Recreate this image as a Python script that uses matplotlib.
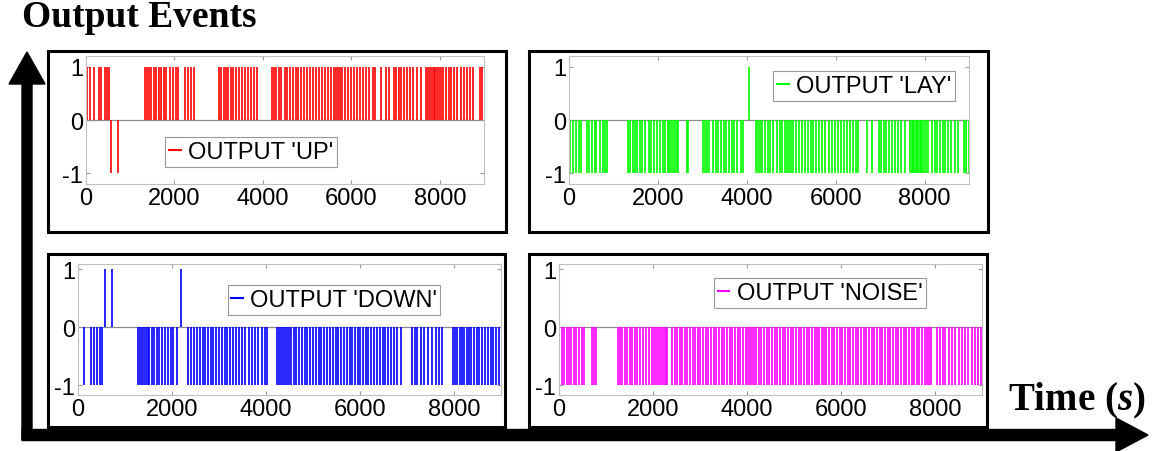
import matplotlib
matplotlib.use("Agg")
import matplotlib.pyplot as plt
from matplotlib.patches import Rectangle, FancyArrow

plt.rcParams['axes.unicode_minus'] = False
plt.rcParams['font.family'] = ['Liberation Sans', 'DejaVu Sans']
plt.rcParams['mathtext.fontset'] = 'custom'
plt.rcParams['mathtext.it'] = 'Liberation Serif:italic:bold'
plt.rcParams['mathtext.rm'] = 'Liberation Serif:bold'

# event times (s) and output values
up_pos = [30, 90, 170, 290, 350, 420, 480, 530,
          1330, 1380, 1430, 1480, 1540, 1590, 1640, 1700, 1760, 1820, 1890, 1960, 2030, 2080,
          2240, 2300, 2370, 2440,
          3010, 3060, 3110, 3160, 3220, 3270, 3330, 3390, 3450, 3520, 3590, 3660, 3730, 3800, 3870,
          4200, 4250, 4300, 4360, 4420, 4490, 4550, 4610, 4680, 4740, 4800, 4870, 4930, 5000,
          5060, 5130, 5190, 5260, 5330, 5400, 5470, 5540, 5600, 5650, 5700, 5750, 5800, 5860,
          5920, 5990, 6060, 6130, 6200, 6270, 6340, 6410, 6480, 6540,
          6680, 6780, 6850,
          6960, 7010, 7070, 7130, 7190, 7260, 7330, 7400, 7480, 7570,
          7680, 7730, 7780, 7820, 7860, 7900, 7940, 7980, 8030, 8080, 8140, 8200, 8260, 8330,
          8400, 8470, 8540, 8610, 8680, 8750,
          8900, 8960]
up_neg = [570, 720]

lay_pos = [4060]
lay_neg = [20, 80, 150, 220, 270, 400, 460, 520, 580, 610, 700, 760, 820, 850,
           1330, 1380, 1430, 1490, 1540, 1590, 1650, 1700, 1790, 1850, 1920, 1990, 2040,
           2120, 2170, 2220, 2260, 2300, 2340, 2380, 2420, 2450, 2650, 2680,
           3010, 3060, 3110, 3160, 3230, 3300, 3360, 3420, 3480, 3540, 3600, 3660, 3720, 3790,
           3860, 3920,
           4200, 4250, 4300, 4350, 4410, 4470, 4530, 4600, 4670, 4740, 4800, 4850, 4900, 4950,
           5000, 5050, 5110, 5170, 5240, 5310, 5380, 5440, 5500, 5560, 5630, 5700, 5770, 5840,
           5910, 5980, 6050, 6120, 6190, 6260, 6330, 6400, 6460, 6510,
           6700, 6810,
           6970, 7020, 7080, 7140, 7200, 7260, 7330, 7400, 7470, 7560,
           7680, 7710, 7740, 7770, 7800, 7830, 7860, 7890, 7920, 7950, 7990, 8030, 8070,
           8170, 8230, 8290, 8350, 8410, 8470, 8530, 8600, 8680, 8760,
           8880, 8940, 8990]

down_pos = [570, 715, 2200]
down_neg = [10, 120, 270, 340, 400, 460, 500,
            1280, 1320, 1360, 1400, 1440, 1480, 1520, 1570, 1620, 1680, 1730, 1790, 1850, 1910,
            1970, 2030, 2100,
            2330, 2400, 2470, 2540, 2600, 2650, 2710, 2770, 2830, 2880, 2940, 3000, 3060, 3120,
            3180, 3240, 3300, 3360, 3420, 3490, 3560, 3630, 3700, 3770, 3840, 3910, 3970, 4030,
            4230, 4280, 4320, 4360, 4400, 4440, 4490, 4540, 4590, 4640, 4700, 4760, 4820, 4880,
            4940, 5000, 5060, 5120, 5180, 5240, 5300, 5360, 5420, 5480, 5540, 5600, 5660, 5720,
            5780, 5840, 5900, 5960, 6010, 6060, 6120, 6180, 6240, 6300, 6360, 6420, 6480, 6540,
            6600, 6660, 6720, 6790, 6880,
            7110, 7160, 7220, 7290, 7370, 7450, 7530, 7610, 7680, 7750,
            7970, 8020, 8070, 8120, 8170, 8220, 8270, 8320, 8370, 8420, 8480, 8540, 8600, 8660,
            8720, 8780, 8840, 8900, 8960]

noise_pos = []
noise_neg = [10, 60, 110, 160, 210, 260, 310, 370, 430, 490, 540, 700, 740, 790,
             1250, 1300, 1350, 1400, 1450, 1500, 1550, 1610, 1670, 1730, 1790, 1850, 1910, 1970,
             2030, 2070, 2110, 2150, 2190, 2230, 2270, 2300,
             2410, 2460, 2510, 2570, 2620, 2680, 2730, 2790, 2850, 2900, 2960, 3010, 3070, 3120,
             3180, 3240, 3290, 3350, 3400, 3460, 3520, 3570, 3630, 3690, 3740, 3800, 3860, 3910,
             3970, 4020, 4070, 4110, 4150, 4200, 4250, 4300, 4360, 4420, 4470, 4530, 4590, 4640,
             4700, 4760, 4810, 4870, 4930, 4980, 5040, 5100, 5150, 5210, 5270, 5320, 5380, 5440,
             5490, 5540, 5590, 5640, 5690, 5740, 5800, 5860, 5910, 5970, 6030, 6080, 6140, 6200,
             6250, 6310, 6370, 6420, 6480, 6540, 6590, 6650, 6710, 6760, 6820, 6880, 6930, 6990,
             7050, 7100, 7160, 7220, 7270, 7330, 7390, 7440, 7500, 7560, 7610, 7670, 7730, 7780,
             7830, 7880, 7920,
             8040, 8100, 8160, 8220, 8290, 8360, 8430, 8500, 8570, 8640, 8710, 8780, 8850, 8920,
             8980]

labels = ["OUTPUT 'UP'", "OUTPUT 'LAY'", "OUTPUT 'DOWN'", "OUTPUT 'NOISE'"]
colors = ['#ff0000', '#00ff00', '#0000ff', '#ff00ff']
x_ticks = [0, 2000, 4000, 6000, 8000]
y_ticks = [-1, 0, 1]

W, H = 1156, 452
fig = plt.figure(figsize=(W / 100, H / 100), dpi=100)

# background layer in pixel coordinates for frames and arrows
bg = fig.add_axes([0, 0, 1, 1], zorder=0)
bg.set_xlim(0, W)
bg.set_ylim(H, 0)
bg.axis('off')

frames = [(48, 52, 506, 233), (529, 52, 988, 233), (48, 255, 505, 428), (529, 255, 987, 428)]
for l, t, r, b in frames:
    bg.add_patch(Rectangle((l, t), r - l, b - t, fill=False, ec='black', lw=2.2))

bg.add_patch(FancyArrow(27, 440, 0, -355, width=10, head_width=36, head_length=32,
                        length_includes_head=False, color='black'))
bg.add_patch(FancyArrow(22, 436, 1094, 0, width=11, head_width=34, head_length=32,
                        length_includes_head=False, color='black'))

bg.text(22, 27, "Output Events", fontsize=27, fontweight='bold', family='Liberation Serif',
        va='baseline', ha='left')
bg.text(1008, 401, r"Time ($s$)", fontsize=28, fontweight='bold', family='Liberation Serif',
        va='center', ha='left')

axes_px = [(86, 57, 484, 185), (569, 57, 969, 185), (78, 265, 501, 396), (559, 265, 982, 396)]
ylims = [(-1.2, 1.2), (-1.2, 1.2), (-1.17, 1.09), (-1.17, 1.09)]
legend_pos = [(251, 153), (864, 87), (334, 301), (820, 294)]
series = [(up_pos, up_neg), (lay_pos, lay_neg), (down_pos, down_neg), (noise_pos, noise_neg)]

for i, (pos, neg) in enumerate(series):
    l, t, r, b = axes_px[i]
    ax = fig.add_axes([l / W, 1 - b / H, (r - l) / W, (b - t) / H], zorder=1)
    ax.patch.set_alpha(0)
    ax.axhline(0, color='0.55', lw=0.9, zorder=1)
    ax.vlines(pos, 0, 1, color=colors[i], lw=1.2, zorder=2)
    ax.vlines(neg, 0, -1, color=colors[i], lw=1.2, zorder=2)
    ax.set_xlim(0, 9000)
    ax.set_ylim(*ylims[i])
    ax.set_xticks(x_ticks)
    ax.set_yticks(y_ticks)
    ax.tick_params(direction='in', length=3, color='0.6', labelsize=17, top=True, right=True,
                   pad=2)
    for s in ax.spines.values():
        s.set_color('0.75')
        s.set_linewidth(0.8)
    lx, ly = legend_pos[i]
    leg = ax.legend([plt.Line2D([], [], color=colors[i], lw=1.5)], [labels[i]],
                    loc='center', bbox_to_anchor=(lx / W, 1 - ly / H),
                    bbox_transform=fig.transFigure, fontsize=17, handlelength=0.5,
                    handletextpad=0.3, borderpad=0.15, fancybox=False, framealpha=1,
                    edgecolor='0.6', borderaxespad=0)
    leg.get_frame().set_linewidth(0.8)

fig.savefig("out.png", dpi=100)
